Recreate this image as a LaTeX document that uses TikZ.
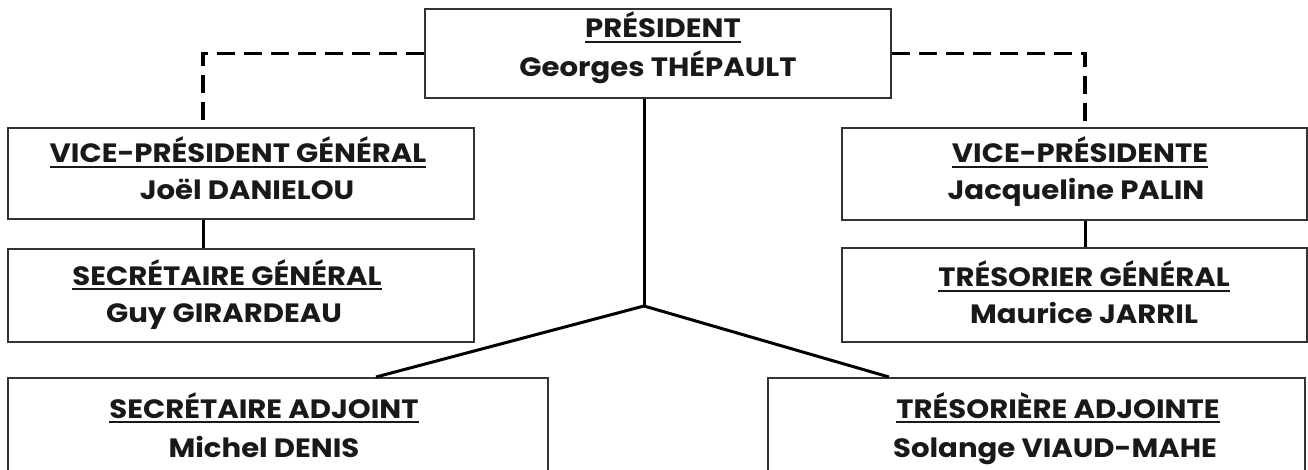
\documentclass[tikz,border=0pt]{standalone}
\usepackage{fontspec}
\setmainfont{Poppins}[FakeStretch=1.1]
\newcommand\ulbox[1]{\setbox0\hbox{#1}\rlap{\rule[-5pt]{\wd0}{2.4pt}}\box0}
\tikzset{
  box/.style={draw=black!80, line width=2pt, fill=white, inner sep=0pt},
  txt/.style={anchor=base, inner sep=0pt, font=\fontsize{26.5}{31}\selectfont\bfseries, text=black!90},
  conn/.style={draw=black, line width=3pt},
  dashconn/.style={draw=black, line width=3.5pt, dash pattern=on 18pt off 9pt}
}
\begin{document}
\begin{tikzpicture}[x=1pt,y=-1pt]
\useasboundingbox (0,0) rectangle (1308,470);
\clip (0,0) rectangle (1308,470);
\fill[white] (0,0) rectangle (1308,470);
% boxes
\node[box, minimum width=466pt, minimum height=89pt] (pres) at (658,53.5) {};
\node[box, minimum width=466pt, minimum height=91pt] (vp1) at (241,173.5) {};
\node[box, minimum width=466pt, minimum height=93pt] (sg) at (241,295.5) {};
\node[box, minimum width=540pt, minimum height=112pt] (sa) at (278,434) {};
\node[box, minimum width=465pt, minimum height=92pt] (vp2) at (1074.5,174) {};
\node[box, minimum width=465pt, minimum height=94pt] (tg) at (1074.5,295) {};
\node[box, minimum width=537pt, minimum height=112pt] (ta) at (1036.5,434) {};
% texts
\node[txt] (presT) at (663,38) {\ulbox{PRÉSIDENT}};
\node[txt] (presN) at (658,77) {Georges THÉPAULT};
\node[txt] (vp1T) at (238,163) {\ulbox{VICE-PRÉSIDENT GÉNÉRAL}};
\node[txt] (vp1N) at (247,200) {Joël DANIELOU};
\node[txt] (sgT) at (227,285) {\ulbox{SECRÉTAIRE GÉNÉRAL}};
\node[txt] (sgN) at (224,322) {Guy GIRARDEAU};
\node[txt] (saT) at (264,418) {\ulbox{SECRÉTAIRE ADJOINT}};
\node[txt] (saN) at (264,457) {Michel DENIS};
\node[txt] (vp2T) at (1080,163) {\ulbox{VICE-PRÉSIDENTE}};
\node[txt] (vp2N) at (1076,200) {Jacqueline PALIN};
\node[txt] (tgT) at (1084,287) {\ulbox{TRÉSORIER GÉNÉRAL}};
\node[txt] (tgN) at (1084,323) {Maurice JARRIL};
\node[txt] (taT) at (1058,418) {\ulbox{TRÉSORIÈRE ADJOINTE}};
\node[txt] (taN) at (1055,457) {Solange VIAUD-MAHE};
% connector coordinates
\coordinate (lx) at (203,0);
\coordinate (rx) at (1085,0);
\coordinate (j) at (644,306);
\coordinate (sax) at (376,0);
\coordinate (tax) at (889,0);
% connectors
\draw[dashconn] (pres.west) -| (lx |- vp1.north);
\draw[dashconn] (pres.east) -| (rx |- vp2.north);
\draw[conn] (lx |- vp1.south) -- (lx |- sg.north);
\draw[conn] (rx |- vp2.south) -- (rx |- tg.north);
\draw[conn] (pres.south -| j) -- (j);
\draw[conn] (j) -- (sax |- sa.north);
\draw[conn] (j) -- (tax |- ta.north);
\end{tikzpicture}
\end{document}
